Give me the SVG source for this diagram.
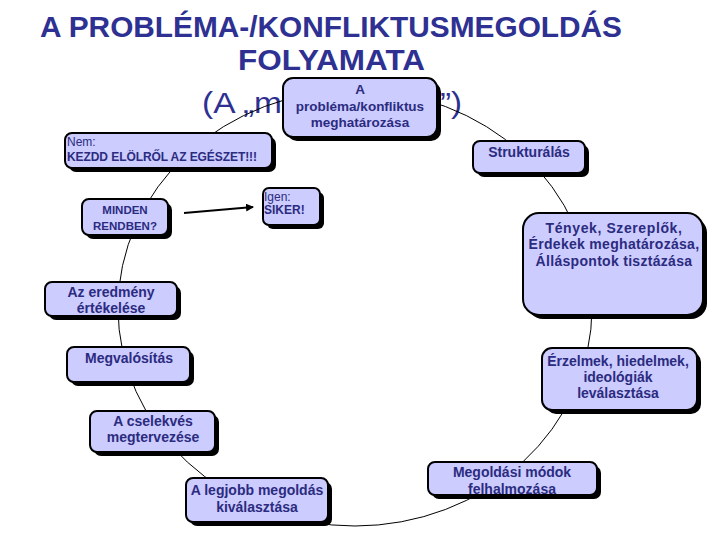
<svg xmlns="http://www.w3.org/2000/svg" width="720" height="540" viewBox="0 0 720 540">
<style>
.title{font-family:"Liberation Sans",Arial,sans-serif;font-weight:bold;font-size:29px;fill:#2E3192}
.sub{font-family:"Liberation Sans",Arial,sans-serif;font-size:30px;fill:#2E3192}
.box{fill:#CCCCFF;stroke:#000;stroke-width:2}
.sh{fill:#000}
.t{font-family:"Liberation Sans",Arial,sans-serif;font-weight:bold;font-size:14px;fill:#2B2B80;text-anchor:middle}
.tl{font-family:"Liberation Sans",Arial,sans-serif;font-size:12px;fill:#2B2B80}
.tlb{font-family:"Liberation Sans",Arial,sans-serif;font-weight:bold;font-size:12px;fill:#2B2B80}
.conn{fill:none;stroke:#000;stroke-width:1}
</style>
<defs>
<marker id="ah" markerWidth="8" markerHeight="8" refX="7" refY="4" orient="auto" markerUnits="userSpaceOnUse"><path d="M0,0 L8,4 L0,8 z" fill="#000"/></marker>
</defs>
<rect width="720" height="540" fill="#fff"/>
<g id="title">
<text class="title" x="40" y="37" textLength="582" lengthAdjust="spacingAndGlyphs">A PROBLÉMA-/KONFLIKTUSMEGOLDÁS</text>
<text class="title" x="238" y="70" textLength="187" lengthAdjust="spacingAndGlyphs">FOLYAMATA</text>
<text class="sub" x="202" y="113" textLength="80" lengthAdjust="spacingAndGlyphs">(A „m</text>
<text class="sub" x="440" y="113" textLength="22" lengthAdjust="spacingAndGlyphs">”)</text>
</g>
<g id="connectors">
<ellipse class="conn" cx="355" cy="308" rx="237" ry="218"/>
<line x1="184" y1="213" x2="253" y2="207" stroke="#000" stroke-width="2" marker-end="url(#ah)"/>
</g>
<g id="n-problema">
<rect class="sh" x="287" y="82" width="154" height="59" rx="10"/>
<rect class="box" x="283" y="78" width="154" height="59" rx="10"/>
<text class="t" x="360" y="94" style="font-size:13.5px">A</text>
<text class="t" x="360" y="111" style="font-size:13.5px">probléma/konfliktus</text>
<text class="t" x="360" y="127" style="font-size:13.5px">meghatározása</text>
</g>
<g id="n-nem">
<rect class="sh" x="69" y="137" width="207" height="35" rx="7"/>
<rect class="box" x="65" y="133" width="207" height="35" rx="7"/>
<text class="tl" x="67" y="146">Nem:</text>
<text class="tlb" x="67" y="161" textLength="190">KEZDD ELÖLRŐL AZ EGÉSZET!!!</text>
</g>
<g id="n-minden">
<rect class="sh" x="86" y="203" width="86" height="36" rx="7"/>
<rect class="box" x="82" y="199" width="86" height="36" rx="7"/>
<text class="t" x="125" y="214" style="font-size:11.5px">MINDEN</text>
<text class="t" x="125" y="230" style="font-size:11.5px">RENDBEN?</text>
</g>
<g id="n-igen">
<rect class="sh" x="267" y="192" width="57" height="37" rx="6"/>
<rect class="box" x="263" y="188" width="57" height="37" rx="6"/>
<text class="tl" x="264" y="201">Igen:</text>
<text class="tlb" x="264" y="214">SIKER!</text>
</g>
<g id="n-struktur">
<rect class="sh" x="477" y="145" width="112" height="32" rx="7"/>
<rect class="box" x="473" y="141" width="112" height="32" rx="7"/>
<text class="t" x="529" y="157">Strukturálás</text>
</g>
<g id="n-tenyek">
<rect class="sh" x="527" y="217" width="180" height="102" rx="16"/>
<rect class="box" x="523" y="213" width="180" height="102" rx="16"/>
<text class="t" x="614" y="233" letter-spacing="0.6">Tények, Szereplők,</text>
<text class="t" x="614" y="249" letter-spacing="0.3">Érdekek meghatározása,</text>
<text class="t" x="614" y="266" letter-spacing="0.3">Álláspontok tisztázása</text>
</g>
<g id="n-erzelmek">
<rect class="sh" x="546" y="352" width="155" height="62" rx="10"/>
<rect class="box" x="542" y="348" width="155" height="62" rx="10"/>
<text class="t" x="618" y="366">Érzelmek, hiedelmek,</text>
<text class="t" x="618" y="382">ideológiák</text>
<text class="t" x="618" y="398">leválasztása</text>
</g>
<g id="n-megoldasi">
<rect class="sh" x="432" y="466" width="169" height="33" rx="7"/>
<rect class="box" x="428" y="462" width="169" height="33" rx="7"/>
<text class="t" x="512" y="477">Megoldási módok</text>
<text class="t" x="512" y="494">felhalmozása</text>
</g>
<g id="n-legjobb">
<rect class="sh" x="190" y="482" width="142" height="44" rx="7"/>
<rect class="box" x="186" y="478" width="142" height="44" rx="7"/>
<text class="t" x="257" y="495">A legjobb megoldás</text>
<text class="t" x="257" y="512">kiválasztása</text>
</g>
<g id="n-cselekves">
<rect class="sh" x="94" y="415" width="125" height="41" rx="7"/>
<rect class="box" x="90" y="411" width="125" height="41" rx="7"/>
<text class="t" x="153" y="426">A cselekvés</text>
<text class="t" x="153" y="442">megtervezése</text>
</g>
<g id="n-megvalositas">
<rect class="sh" x="71" y="351" width="123" height="35" rx="7"/>
<rect class="box" x="67" y="347" width="123" height="35" rx="7"/>
<text class="t" x="129" y="363">Megvalósítás</text>
</g>
<g id="n-eredmeny">
<rect class="sh" x="49" y="286" width="132" height="34" rx="7"/>
<rect class="box" x="45" y="282" width="132" height="34" rx="7"/>
<text class="t" x="111" y="297">Az eredmény</text>
<text class="t" x="111" y="313">értékelése</text>
</g>
</svg>
